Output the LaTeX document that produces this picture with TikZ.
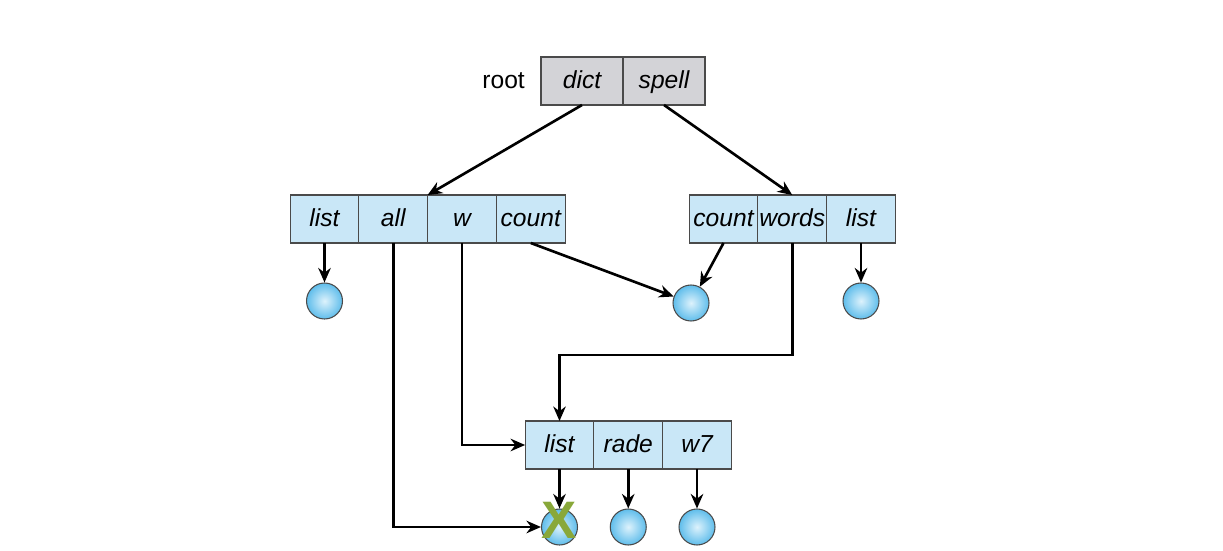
\documentclass[tikz,border=0pt]{standalone}
\usepackage{fontspec}
\setmainfont{Liberation Sans}
\usepackage{xcolor}
\definecolor{cellblue}{HTML}{C9E7F7}
\definecolor{cellgray}{HTML}{D3D3D7}
\definecolor{cellline}{HTML}{4A4A4A}
\definecolor{ballblue}{HTML}{5FBDEB}
\definecolor{balllight}{HTML}{DDF2FC}
\definecolor{xgreen}{HTML}{89A83A}
\usepackage{tikz}
\usetikzlibrary{arrows.meta, positioning}
\tikzset{
  cell/.style ={rectangle, draw=cellline, line width=0.6pt, fill=cellblue, minimum height=0.96cm,
                minimum width=1.375cm, inner sep=0pt, outer sep=0pt, text height=10pt, text depth=1pt,
                font=\fontsize{14}{16}\selectfont\itshape},
  rcell/.style={cell, fill=cellgray, minimum width=1.64cm},
  leaf/.style ={circle, draw=cellline, line width=0.6pt, minimum size=0.72cm, inner sep=0pt,
                inner color=balllight, outer color=ballblue},
  parr/.style ={-{Stealth[length=2.9mm, width=2.5mm]}, line width=1.5pt, color=black},
}

\begin{document}
\begin{tikzpicture}
  \useasboundingbox (0,0) rectangle (24.46,11);
  % root directory
  \node[rcell] (dict) at (11.64,9.38) {dict};
  \node[rcell, right=0pt of dict] (spell) {spell};
  \node[left=0.2cm of dict, font=\fontsize{14}{16}\selectfont, text height=10pt, text depth=1pt] (root) {root};
  % dict directory
  \node[cell] (dlist) at (6.49,6.62) {list};
  \node[cell, right=0pt of dlist] (dall) {all};
  \node[cell, right=0pt of dall] (dw) {w};
  \node[cell, right=0pt of dw] (dcount) {count};
  % spell directory
  \node[cell] (scount) at (14.47,6.62) {count};
  \node[cell, right=0pt of scount] (swords) {words};
  \node[cell, right=0pt of swords] (slist) {list};
  % shared directory
  \node[cell] (blist) at (11.19,2.1) {list};
  \node[cell, right=0pt of blist] (brade) {rade};
  \node[cell, right=0pt of brade] (bw) {w7};
  % files
  \node[leaf] (f1) at (dlist.south |- 0,4.98) {};
  \node[leaf] (f2) at (13.82,4.94) {};
  \node[leaf] (f3) at (slist.south |- 0,4.98) {};
  \node[leaf] (f4) at (blist.south |- 0,0.46) {};
  \node[leaf] (f5) at (brade.south |- 0,0.46) {};
  \node[leaf] (f6) at (bw.south |- 0,0.46) {};
  \draw[parr] (dict.south) -- (dall.north east);
  \draw[parr] (spell.south) -- (swords.north);
  \draw[parr] (dlist.south) -- (f1);
  \draw[parr] (dcount.south) -- (f2);
  \draw[parr] (scount.south) -- (f2);
  \draw[parr] (slist.south) -- (f3);
  \draw[parr] (swords.south) -- ++(0,-2.24) -| (blist.north);
  \draw[parr] (dw.south) |- (blist.west);
  \draw[parr] (dall.south) |- (f4.west);
  \draw[parr] (blist.south) -- (f4);
  \draw[parr] (brade.south) -- (f5);
  \draw[parr] (bw.south) -- (f6);
  % deleted link
  \node[text=xgreen, font=\fontsize{30}{30}\selectfont\bfseries] (xmark) at ([yshift=0.14cm]f4.center) {X};
\end{tikzpicture}
\end{document}
